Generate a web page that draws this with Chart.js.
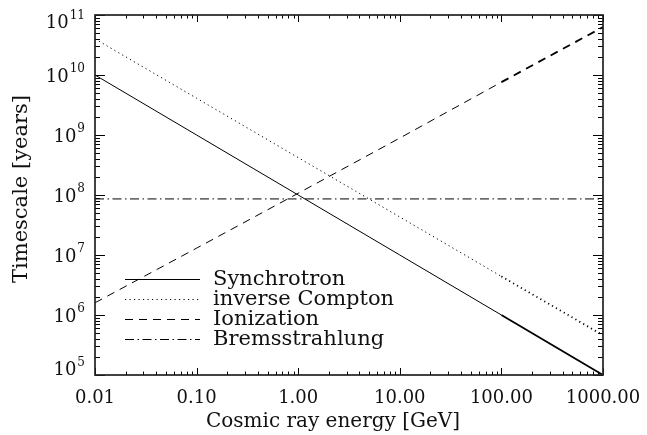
<!DOCTYPE html>
<html>
<head>
<meta charset="utf-8">
<script src="https://cdn.jsdelivr.net/npm/chart.js@4"></script>
<style>
  html, body { margin: 0; padding: 0; background: #fff; }
  canvas { display: block; }
</style>
</head>
<body>
<canvas id="chart" width="647" height="435"></canvas>
<script>
// Energy grid (GeV) and loss timescales (years)
const energies = [0.01, 0.1, 1, 10, 100, 1000];
const synchrotron = [1e10, 1e9, 1e8, 1e7, 1e6, 1e5];
const inverseCompton = [4.0e10, 4.1e9, 4.2e8, 4.3e7, 4.4e6, 4.6e5];
const ionization = [1.6e6, 1.3e7, 1.07e8, 8.9e8, 7.6e9, 6.3e10];
const bremsstrahlung = [8.6e7, 8.6e7, 8.6e7, 8.6e7, 8.6e7, 8.6e7];

const seriesNames = ['Synchrotron', 'inverse Compton', 'Ionization', 'Bremsstrahlung'];
const xTickValues = [0.01, 0.1, 1, 10, 100, 1000];
const yTickExponents = [5, 6, 7, 8, 9, 10, 11];
const xAxisTitle = 'Cosmic ray energy [GeV]';
const yAxisTitle = 'Timescale [years]';

const FONT = 'DejaVu Serif';

function toPoints(values) {
  return energies.map((e, i) => ({ x: e, y: values[i] }));
}

function makeSeries(label, values, dash, heavyTail) {
  return {
    label,
    data: toPoints(values),
    borderColor: '#000',
    borderWidth: 1,
    borderDash: dash,
    pointRadius: 0,
    tension: 0,
    fill: false,
    segment: {
      borderWidth: ctx => (heavyTail && ctx.p0.parsed.x >= 100 ? 1.8 : 1)
    }
  };
}

// Inward tick marks on all four sides plus the frame
const frameTicks = {
  id: 'frameTicks',
  afterDatasetsDraw(chart) {
    const { ctx, chartArea: a, scales: { x, y } } = chart;
    ctx.save();
    ctx.strokeStyle = '#000';
    ctx.lineWidth = 1;
    const xMajor = 7, xMinor = 3.5, yMajor = 10, yMinor = 5;
    ctx.beginPath();
    for (let e = Math.log10(x.min); e <= Math.log10(x.max); e++) {
      for (let m = 1; m <= 9; m++) {
        const v = m * Math.pow(10, e);
        if (v > x.max * 1.0001) break;
        const px = Math.round(x.getPixelForValue(v)) + 0.5;
        const len = m === 1 ? xMajor : xMinor;
        ctx.moveTo(px, a.bottom); ctx.lineTo(px, a.bottom - len);
        ctx.moveTo(px, a.top); ctx.lineTo(px, a.top + len);
      }
    }
    for (let e = Math.log10(y.min); e <= Math.log10(y.max); e++) {
      for (let m = 1; m <= 9; m++) {
        const v = m * Math.pow(10, e);
        if (v > y.max * 1.0001) break;
        const py = Math.round(y.getPixelForValue(v)) + 0.5;
        const len = m === 1 ? yMajor : yMinor;
        ctx.moveTo(a.left, py); ctx.lineTo(a.left + len, py);
        ctx.moveTo(a.right, py); ctx.lineTo(a.right - len, py);
      }
    }
    ctx.stroke();
    ctx.lineWidth = 1.7;
    ctx.strokeStyle = '#222';
    ctx.strokeRect(a.left, a.top, a.right - a.left, a.bottom - a.top);
    ctx.restore();
  }
};

// Power-of-ten labels on the time axis (kept inside the axis range) and axis titles
const axisText = {
  id: 'axisText',
  afterDraw(chart) {
    const { ctx, chartArea: a, scales: { y } } = chart;
    ctx.save();
    ctx.fillStyle = '#111';
    ctx.textBaseline = 'middle';
    ctx.textAlign = 'right';
    const rightEdge = a.left - 10;
    yTickExponents.forEach(p => {
      const py = y.getPixelForValue(Math.pow(10, p));
      const cy = Math.min(Math.max(py + 2, a.top + 8.5), a.bottom - 4.5);
      const expText = String(p);
      ctx.font = `12px "${FONT}"`;
      const expW = ctx.measureText(expText).width;
      ctx.fillText(expText, rightEdge, cy - 8);
      ctx.font = `18px "${FONT}"`;
      ctx.fillText('10', rightEdge - expW - 1, cy);
    });

    ctx.textAlign = 'center';
    ctx.font = `20px "${FONT}"`;
    ctx.fillText(xAxisTitle, (a.left + a.right) / 2 - 16, chart.height - 13);

    ctx.translate(22, (a.top + a.bottom) / 2 - 6);
    ctx.rotate(-Math.PI / 2);
    ctx.font = `21px "${FONT}"`;
    ctx.fillText(yAxisTitle, 0, 0);
    ctx.restore();
  }
};

// Legend placed in the lower-left of the plot
const insetLegend = {
  id: 'insetLegend',
  afterDraw(chart) {
    const { ctx, chartArea: a } = chart;
    ctx.save();
    ctx.font = `21px "${FONT}"`;
    ctx.fillStyle = '#111';
    ctx.textBaseline = 'middle';
    ctx.textAlign = 'left';
    chart.data.datasets.forEach((ds, i) => {
      const ry = Math.round(a.bottom - 96 + i * 20) + 0.5;
      ctx.strokeStyle = ds.borderColor;
      ctx.lineWidth = 1;
      ctx.setLineDash(ds.borderDash || []);
      ctx.beginPath();
      ctx.moveTo(a.left + 30, ry);
      ctx.lineTo(a.left + 105, ry);
      ctx.stroke();
      ctx.setLineDash([]);
      ctx.fillText(ds.label, a.left + 118, ry);
    });
    ctx.restore();
  }
};

new Chart(document.getElementById('chart'), {
  type: 'line',
  data: {
    datasets: [
      makeSeries(seriesNames[0], synchrotron, [], true),
      makeSeries(seriesNames[1], inverseCompton, [1.2, 3.3], true),
      makeSeries(seriesNames[2], ionization, [8, 6], true),
      makeSeries(seriesNames[3], bremsstrahlung, [9, 3.5, 1.5, 3.5], false)
    ]
  },
  options: {
    responsive: false,
    animation: false,
    devicePixelRatio: 1,
    layout: { padding: { top: 15, right: 44, left: 0, bottom: 0 } },
    plugins: { legend: { display: false }, tooltip: { enabled: false } },
    scales: {
      x: {
        type: 'logarithmic',
        min: 0.01,
        max: 1000,
        grid: { display: false, drawTicks: false },
        border: { display: false },
        afterBuildTicks: s => { s.ticks = xTickValues.map(v => ({ value: v })); },
        afterFit: s => { s.height = 60; s.paddingLeft = 0; s.paddingRight = 0; },
        ticks: {
          autoSkip: false,
          maxRotation: 0,
          minRotation: 0,
          padding: 13,
          color: '#111',
          font: { family: FONT, size: 18 },
          callback: v => Number(v).toFixed(2)
        },
        title: { display: false }
      },
      y: {
        type: 'logarithmic',
        min: 1e5,
        max: 1e11,
        grid: { display: false, drawTicks: false },
        border: { display: false },
        ticks: { display: false },
        afterFit: s => { s.width = 95; },
        title: { display: false }
      }
    }
  },
  plugins: [frameTicks, axisText, insetLegend]
});
</script>
</body>
</html>
